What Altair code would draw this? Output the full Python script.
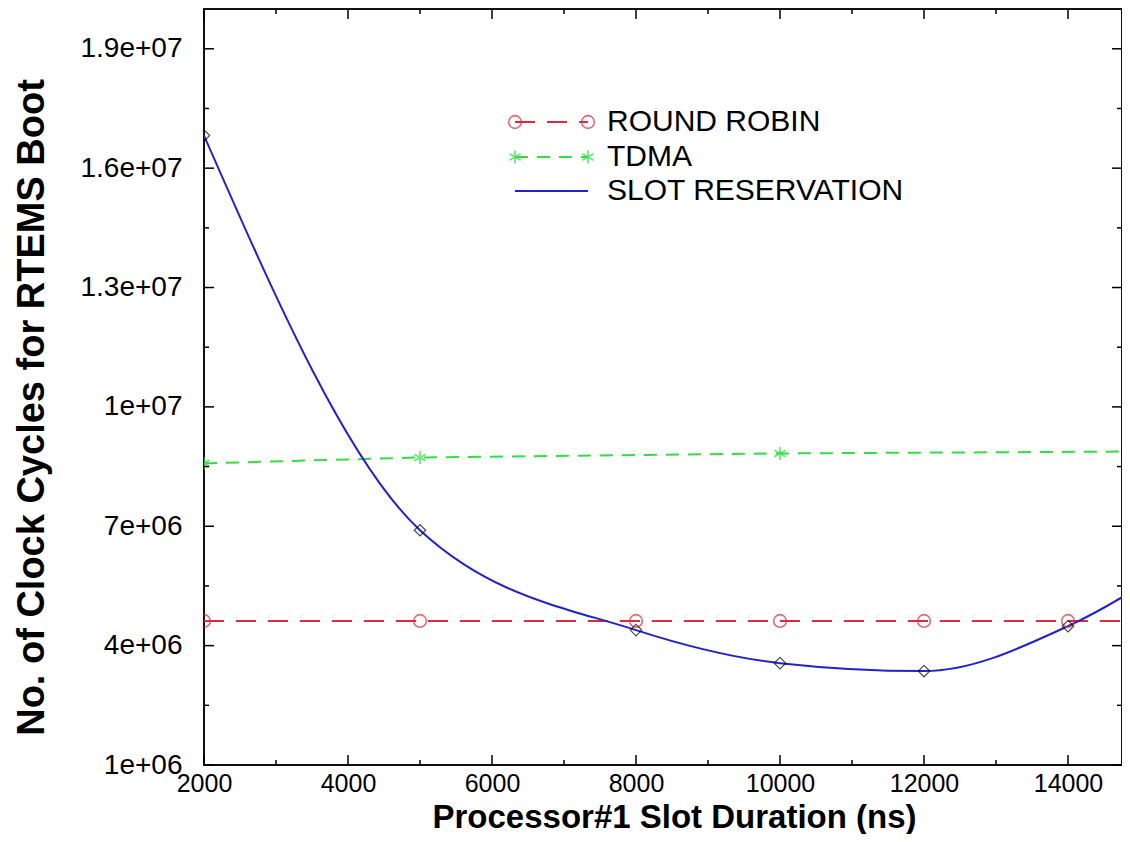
import altair as alt
import pandas as pd

# ---- data ----
series_names = ["ROUND ROBIN", "TDMA", "SLOT RESERVATION"]

rr_x = [2000, 5000, 8000, 10000, 12000, 14000, 15000]
rr_y = [4.62e6, 4.62e6, 4.62e6, 4.62e6, 4.62e6, 4.62e6, 4.62e6]

tdma_x = [2000, 5000, 10000, 15000]
tdma_y = [8.58e6, 8.73e6, 8.83e6, 8.88e6]

slot_x = [2000, 5000, 8000, 10000, 12000, 14000, 16000]
slot_y = [1.682e7, 6.9e6, 4.39e6, 3.56e6, 3.36e6, 4.49e6, 6.7e6]

x_major = [2000, 4000, 6000, 8000, 10000, 12000, 14000]
x_minor = [3000, 5000, 7000, 9000, 11000, 13000]
y_major = [1e6, 4e6, 7e6, 1e7, 1.3e7, 1.6e7, 1.9e7]
y_labels = ["1e+06", "4e+06", "7e+06", "1e+07", "1.3e+07", "1.6e+07", "1.9e+07"]
y_minor = [2.5e6, 5.5e6, 8.5e6, 1.15e7, 1.45e7, 1.75e7]

x_title = "Processor#1 Slot Duration (ns)"
y_title = "No. of Clock Cycles for RTEMS Boot"

# ---- styling ----
W, H = 918, 756
FONT = "Liberation Sans"
RED, GREEN, BLUE = "#dd2a3c", "#33dd44", "#2222cc"
ASTERISK = "M0,-1L0,1M-0.87,-0.5L0.87,0.5M-0.87,0.5L0.87,-0.5"

xscale = alt.Scale(domain=[2000, 14750], nice=False, zero=False)
yscale = alt.Scale(domain=[1e6, 2e7], nice=False, zero=False)

label_expr = " : ".join(
    f"datum.value == {v} ? '{l}'" for v, l in zip(y_major, y_labels)
) + " : ''"

x_axis = alt.Axis(values=x_major, format="d", title=x_title, ticks=False, domain=False,
                  grid=False, labelFont=FONT, labelFontSize=25, labelColor="black",
                  labelPadding=6, labelFlush=False,
                  titleFont=FONT, titleFontSize=33, titleFontWeight="bold", titleColor="black",
                  titleX=470, titleY=62, titleBaseline="alphabetic")
y_axis = alt.Axis(values=y_major, labelExpr=label_expr, title=y_title, ticks=False, domain=False,
                  grid=False, labelFont=FONT, labelFontSize=28, labelColor="black",
                  labelPadding=22, labelFlush=False,
                  titleFont=FONT, titleFontSize=38, titleFontWeight="bold", titleColor="black",
                  titleX=-172, titleY=398, titleBaseline="middle", titleAlign="center", titleAngle=-90)


def X():
    return alt.X("x:Q", scale=xscale, axis=x_axis)


def Y():
    return alt.Y("y:Q", scale=yscale, axis=y_axis)


df_rr = pd.DataFrame({"x": rr_x, "y": rr_y})
df_tdma = pd.DataFrame({"x": tdma_x, "y": tdma_y})
df_slot = pd.DataFrame({"x": slot_x, "y": slot_y})

rr_line = alt.Chart(df_rr).mark_line(color=RED, strokeWidth=2, strokeDash=[20, 12], clip=True).encode(x=X(), y=Y())
rr_pts = alt.Chart(df_rr).mark_point(shape="circle", size=160, color=RED, filled=False,
                                     strokeWidth=1.6, clip=True).encode(x=X(), y=Y())

tdma_line = alt.Chart(df_tdma).mark_line(color=GREEN, strokeWidth=2, strokeDash=[13, 9], clip=True).encode(x=X(), y=Y())
tdma_pts = alt.Chart(df_tdma).mark_point(shape=ASTERISK, size=170, color=GREEN, filled=False,
                                         strokeWidth=1.8, clip=True).encode(x=X(), y=Y())

slot_line = alt.Chart(df_slot).mark_line(color=BLUE, strokeWidth=2, interpolate="monotone", clip=True).encode(x=X(), y=Y())
slot_pts = alt.Chart(df_slot).mark_point(shape="diamond", size=130, color="black", filled=False,
                                         strokeWidth=1.2, clip=True).encode(x=X(), y=Y())


# ---- inward ticks on all four sides ----
def yticks(vals, x0, x1):
    return alt.Chart(pd.DataFrame({"y": vals})).mark_rule(color="black", strokeWidth=1.5).encode(
        y=Y(), x=alt.value(x0), x2=alt.value(x1))


def xticks(vals, y0, y1):
    return alt.Chart(pd.DataFrame({"x": vals})).mark_rule(color="black", strokeWidth=1.5).encode(
        x=X(), y=alt.value(y0), y2=alt.value(y1))


ticks = [
    yticks(y_major, 0, 10), yticks(y_minor, 0, 5),
    yticks(y_major, W, W - 10), yticks(y_minor, W, W - 5),
    xticks(x_major, H, H - 10), xticks(x_minor, H, H - 5),
    xticks(x_major, 0, 10), xticks(x_minor, 0, 5),
]

# ---- legend (inside the plot, upper middle) ----
one = pd.DataFrame({"name": series_names})
LX0, LX1, LT = 311, 384, 403
rows = [113, 148, 182]


def leg_text(i):
    return alt.Chart(one.iloc[[i]]).mark_text(align="left", baseline="middle", font=FONT,
                                               fontSize=30, color="black").encode(
        text="name:N", x=alt.value(LT), y=alt.value(rows[i]))


def leg_rule(i, color, dash=None):
    kw = dict(color=color, strokeWidth=2)
    if dash:
        kw["strokeDash"] = dash
    return alt.Chart(one.iloc[[i]]).mark_rule(**kw).encode(
        x=alt.value(LX0), x2=alt.value(LX1), y=alt.value(rows[i]))


def leg_pt(i, xpos, shape, color, size, sw):
    return alt.Chart(one.iloc[[i]]).mark_point(shape=shape, size=size, color=color, filled=False,
                                               strokeWidth=sw).encode(
        x=alt.value(xpos), y=alt.value(rows[i]))


legend = [
    leg_rule(0, RED, [20, 12]), leg_pt(0, LX0, "circle", RED, 160, 1.6), leg_pt(0, LX1, "circle", RED, 160, 1.6),
    leg_rule(1, GREEN, [13, 9]), leg_pt(1, LX0, ASTERISK, GREEN, 170, 1.8), leg_pt(1, LX1, ASTERISK, GREEN, 170, 1.8),
    leg_rule(2, BLUE),
    leg_text(0), leg_text(1), leg_text(2),
]

chart = alt.layer(
    rr_line, tdma_line, slot_line, rr_pts, tdma_pts, slot_pts, *ticks, *legend
).properties(
    width=W, height=H,
    autosize=alt.AutoSizeParams(type="none"),
    padding={"left": 196, "top": 1, "right": 0, "bottom": 69},
).configure_view(
    stroke="#111111", strokeWidth=2
)

chart.save("out.html", embed_options={"renderer": "svg", "actions": False})
